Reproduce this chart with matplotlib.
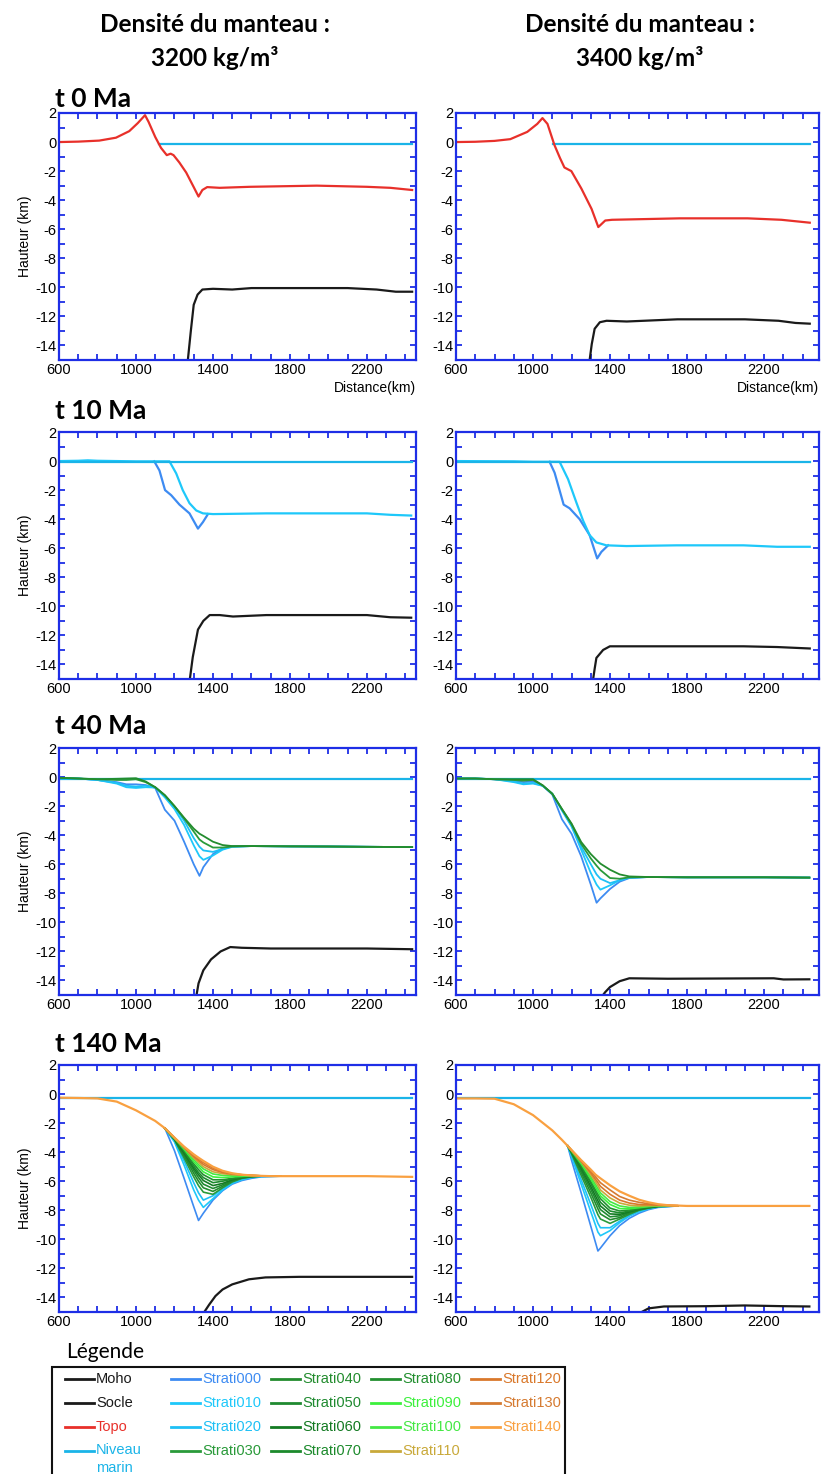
import matplotlib.pyplot as plt
from matplotlib.lines import Line2D
from matplotlib.patches import Rectangle

plt.rcParams['font.family'] = ['Liberation Sans', 'DejaVu Sans']
plt.rcParams['axes.unicode_minus'] = False

W, H = 821, 1474

# ---------------- data (km) ----------------
densities = ["3200", "3400"]
times = ["t 0 Ma", "t 10 Ma", "t 40 Ma", "t 140 Ma"]
xticks = [600, 1000, 1400, 1800, 2200]
yticks = [-14, -12, -10, -8, -6, -4, -2, 0, 2]

legend_names = ["Moho", "Socle", "Topo", "Niveau\nmarin",
                "Strati000", "Strati010", "Strati020", "Strati030",
                "Strati040", "Strati050", "Strati060", "Strati070",
                "Strati080", "Strati090", "Strati100", "Strati110",
                "Strati120", "Strati130", "Strati140"]
legend_colors = ["#1a1a1a", "#1a1a1a", "#e8302a", "#1ab4e8",
                 "#3d8bf2", "#1ec8fa", "#1ec0f5", "#2a9a3a",
                 "#238c2e", "#1f8a30", "#137a22", "#1c8a2c",
                 "#228f2f", "#3cf03c", "#44e844", "#c9a93a",
                 "#d9782b", "#d57a30", "#f9a040"]

# t 0 Ma
topo0_3200_x = [600, 700, 809, 896, 965, 1009, 1047, 1065, 1100, 1130, 1160, 1180, 1195, 1225, 1261,
                1300, 1325, 1345, 1370, 1435, 1591, 1939, 2200, 2322, 2435]
topo0_3200_y = [0.0, 0.03, 0.1, 0.3, 0.75, 1.3, 1.85, 1.4, 0.35, -0.4, -0.9, -0.8, -0.9, -1.4, -2.1,
                -3.1, -3.75, -3.3, -3.1, -3.15, -3.08, -3.0, -3.08, -3.15, -3.3]
sea0_3200_x = [1120, 2435]
sea0_3200_y = [-0.1, -0.1]
socle0_3200_x = [1268, 1285, 1300, 1320, 1345, 1400, 1500, 1600, 2100, 2250, 2350, 2435]
socle0_3200_y = [-15.2, -13.0, -11.2, -10.5, -10.15, -10.1, -10.15, -10.05, -10.05, -10.15, -10.3, -10.3]

topo0_3400_x = [600, 700, 800, 882, 970, 1022, 1049, 1075, 1111, 1140, 1163, 1199, 1251, 1304, 1339,
                1375, 1410, 1762, 2114, 2290, 2437]
topo0_3400_y = [0.0, 0.02, 0.08, 0.2, 0.7, 1.25, 1.65, 1.25, -0.2, -1.1, -1.75, -2.0, -3.2, -4.6, -5.85,
                -5.4, -5.35, -5.25, -5.25, -5.35, -5.55]
sea0_3400_x = [1103, 2437]
sea0_3400_y = [-0.1, -0.1]
socle0_3400_x = [1292, 1305, 1320, 1347, 1382, 1487, 1750, 2100, 2275, 2363, 2437]
socle0_3400_y = [-15.2, -13.9, -12.85, -12.4, -12.3, -12.35, -12.2, -12.2, -12.3, -12.45, -12.5]

# t 10 Ma
sea10_3200_x = [600, 2435]
sea10_3200_y = [-0.05, -0.05]
s010_10_3200_x = [600, 700, 750, 800, 900, 1000, 1100, 1174, 1209, 1243, 1278, 1313, 1348, 1400,
                  1678, 2200, 2322, 2430]
s010_10_3200_y = [0.0, 0.02, 0.05, 0.02, 0.0, -0.02, -0.02, -0.02, -0.85, -2.0, -2.9, -3.4, -3.6, -3.65,
                  -3.6, -3.6, -3.7, -3.75]
s000_10_3200_x = [1095, 1122, 1151, 1183, 1226, 1278, 1322, 1348, 1374]
s000_10_3200_y = [-0.02, -0.65, -2.0, -2.35, -3.0, -3.6, -4.65, -4.2, -3.65]
socle10_3200_x = [1278, 1295, 1322, 1350, 1383, 1435, 1504, 1678, 2200, 2322, 2430]
socle10_3200_y = [-15.2, -13.5, -11.6, -11.0, -10.6, -10.6, -10.7, -10.6, -10.6, -10.75, -10.78]

sea10_3400_x = [600, 2437]
sea10_3400_y = [-0.05, -0.05]
s010_10_3400_x = [600, 900, 1000, 1100, 1138, 1182, 1225, 1260, 1294, 1329, 1381, 1485, 1746, 2093,
                  2267, 2437]
s010_10_3400_y = [0.0, -0.02, -0.05, -0.05, -0.05, -1.25, -2.85, -4.1, -5.1, -5.6, -5.8, -5.85, -5.8, -5.8,
                  -5.9, -5.9]
s000_10_3400_x = [1086, 1112, 1159, 1190, 1242, 1294, 1333, 1355, 1390]
s000_10_3400_y = [-0.05, -0.8, -3.0, -3.25, -4.0, -5.1, -6.7, -6.25, -5.8]
socle10_3400_x = [1310, 1320, 1329, 1364, 1399, 1572, 2093, 2267, 2437]
socle10_3400_y = [-15.2, -14.3, -13.55, -13.0, -12.75, -12.75, -12.75, -12.8, -12.9]

# t 40 Ma
x40 = [600, 700, 800, 900, 950, 1000, 1050, 1100, 1150, 1200, 1250, 1300, 1330, 1350, 1400, 1450,
       1500, 1600, 1800, 2000, 2200, 2435]
s000_40_3200 = [-0.05, -0.1, -0.2, -0.35, -0.5, -0.5, -0.55, -0.75, -2.25, -3.0, -4.45, -6.0, -6.8, -6.2,
                -5.3, -4.9, -4.78, -4.75, -4.77, -4.78, -4.8, -4.82]
s010_40_3200 = [-0.05, -0.1, -0.2, -0.45, -0.7, -0.75, -0.7, -0.72, -1.4, -2.2, -3.3, -4.7, -5.45, -5.7,
                -5.4, -5.0, -4.8, -4.75, -4.77, -4.78, -4.8, -4.82]
s020_40_3200 = [-0.05, -0.1, -0.2, -0.4, -0.6, -0.65, -0.6, -0.7, -1.3, -2.05, -3.0, -4.2, -4.8, -5.05,
                -5.15, -4.95, -4.78, -4.75, -4.77, -4.78, -4.8, -4.82]
s030_40_3200 = [-0.05, -0.1, -0.15, -0.2, -0.2, -0.15, -0.35, -0.7, -1.25, -2.0, -2.85, -3.75, -4.3, -4.5,
                -4.85, -4.85, -4.78, -4.75, -4.77, -4.78, -4.8, -4.82]
s040_40_3200 = [-0.05, -0.1, -0.15, -0.12, -0.1, -0.08, -0.3, -0.7, -1.25, -2.0, -2.8, -3.55, -3.9, -4.05,
                -4.45, -4.68, -4.75, -4.75, -4.77, -4.78, -4.8, -4.82]
sea40_3200_x = [600, 2435]
sea40_3200_y = [-0.15, -0.15]
socle40_3200_x = [1312, 1325, 1350, 1390, 1440, 1490, 1550, 1700, 2200, 2435]
socle40_3200_y = [-15.2, -14.2, -13.3, -12.55, -12.0, -11.7, -11.75, -11.8, -11.8, -11.85]

s000_40_3400 = [-0.1, -0.1, -0.15, -0.25, -0.35, -0.3, -0.6, -1.2, -2.9, -3.9, -5.45, -7.4, -8.65, -8.35,
                -7.7, -7.2, -6.95, -6.88, -6.9, -6.9, -6.9, -6.92]
s010_40_3400 = [-0.1, -0.1, -0.15, -0.35, -0.5, -0.45, -0.6, -1.15, -2.3, -3.4, -5.0, -6.6, -7.4, -7.75,
                -7.45, -7.1, -6.92, -6.88, -6.9, -6.9, -6.9, -6.92]
s020_40_3400 = [-0.1, -0.1, -0.15, -0.3, -0.45, -0.4, -0.6, -1.15, -2.25, -3.35, -4.8, -6.0, -6.7, -7.0,
                -7.3, -7.1, -6.92, -6.88, -6.9, -6.9, -6.9, -6.92]
s030_40_3400 = [-0.1, -0.1, -0.15, -0.2, -0.25, -0.2, -0.57, -1.15, -2.2, -3.25, -4.6, -5.6, -6.1, -6.4,
                -6.95, -7.0, -6.9, -6.88, -6.9, -6.9, -6.9, -6.92]
s040_40_3400 = [-0.1, -0.1, -0.15, -0.15, -0.15, -0.15, -0.57, -1.15, -2.2, -3.2, -4.47, -5.3, -5.7, -5.96,
                -6.38, -6.7, -6.84, -6.88, -6.9, -6.9, -6.9, -6.92]
sea40_3400_x = [600, 2437]
sea40_3400_y = [-0.1, -0.1]
socle40_3400_x = [1352, 1375, 1400, 1450, 1500, 1700, 2250, 2300, 2435]
socle40_3400_y = [-15.2, -14.8, -14.45, -14.05, -13.85, -13.88, -13.85, -13.93, -13.92]

# t 140 Ma : shared upper surface (Strati140) and the fan of strata below it
x140 = [600, 700, 800, 900, 1000, 1100, 1150, 1200, 1250, 1300, 1325, 1350, 1400, 1450, 1500, 1550,
        1600, 1650, 1700, 1800, 2000, 2200, 2435]
s140_3200 = [-0.25, -0.27, -0.3, -0.52, -1.12, -1.85, -2.35, -3.0, -3.62, -4.15, -4.38, -4.6, -5.0, -5.28,
             -5.45, -5.55, -5.6, -5.63, -5.65, -5.65, -5.65, -5.65, -5.7]
fan_3200 = [1150, 1200, 1250, 1300, 1325, 1350, 1400, 1450, 1500, 1550, 1600, 1650, 1750]
s000_3200 = [-2.35, -3.9, -5.8, -7.75, -8.7, -8.2, -7.3, -6.65, -6.2, -5.95, -5.8, -5.7, -5.65]
s010_3200 = [-2.35, -3.3, -4.9, -6.6, -7.3, -7.8, -7.2, -6.6, -6.15, -5.9, -5.75, -5.68, -5.65]
s020_3200 = [-2.35, -3.2, -4.6, -6.1, -6.8, -7.3, -7.0, -6.5, -6.1, -5.85, -5.72, -5.66, -5.65]
s030_3200 = [-2.35, -3.15, -4.4, -5.7, -6.3, -6.75, -6.9, -6.45, -6.05, -5.8, -5.7, -5.65, -5.65]
s040_3200 = [-2.35, -3.12, -4.25, -5.45, -6.0, -6.45, -6.7, -6.35, -6.0, -5.78, -5.68, -5.65, -5.65]
s050_3200 = [-2.35, -3.1, -4.15, -5.25, -5.75, -6.2, -6.5, -6.25, -5.95, -5.76, -5.67, -5.64, -5.65]
s060_3200 = [-2.35, -3.08, -4.05, -5.1, -5.55, -5.95, -6.3, -6.15, -5.9, -5.74, -5.66, -5.64, -5.65]
s070_3200 = [-2.35, -3.06, -3.95, -4.95, -5.4, -5.75, -6.1, -6.0, -5.85, -5.72, -5.65, -5.64, -5.65]
s080_3200 = [-2.35, -3.05, -3.9, -4.8, -5.2, -5.55, -5.9, -5.9, -5.8, -5.7, -5.64, -5.63, -5.65]
s090_3200 = [-2.35, -3.04, -3.8, -4.65, -5.0, -5.35, -5.7, -5.75, -5.7, -5.66, -5.63, -5.63, -5.65]
s100_3200 = [-2.35, -3.03, -3.75, -4.5, -4.85, -5.15, -5.5, -5.6, -5.62, -5.62, -5.62, -5.63, -5.65]
s110_3200 = [-2.35, -3.02, -3.7, -4.4, -4.7, -5.0, -5.35, -5.48, -5.55, -5.58, -5.6, -5.63, -5.65]
s120_3200 = [-2.35, -3.01, -3.68, -4.3, -4.58, -4.85, -5.2, -5.4, -5.5, -5.56, -5.6, -5.63, -5.65]
s130_3200 = [-2.35, -3.0, -3.65, -4.22, -4.48, -4.72, -5.1, -5.33, -5.48, -5.55, -5.6, -5.63, -5.65]
sea140_3200_x = [600, 2435]
sea140_3200_y = [-0.25, -0.25]
socle140_3200_x = [1345, 1380, 1413, 1450, 1500, 1587, 1673, 1850, 2435]
socle140_3200_y = [-15.2, -14.5, -13.9, -13.45, -13.1, -12.75, -12.62, -12.58, -12.58]

s140_3400 = [-0.3, -0.3, -0.32, -0.7, -1.45, -2.5, -3.15, -3.85, -4.55, -5.2, -5.55, -5.8, -6.28, -6.7,
             -7.0, -7.27, -7.45, -7.58, -7.65, -7.7, -7.7, -7.7, -7.7]
fan_3400 = [1180, 1200, 1250, 1300, 1337, 1350, 1400, 1450, 1500, 1550, 1600, 1650, 1750]
s000_3400 = [-3.57, -4.56, -6.8, -9.1, -10.8, -10.6, -9.75, -9.05, -8.55, -8.2, -7.95, -7.8, -7.7]
s010_3400 = [-3.57, -4.3, -6.2, -8.1, -9.5, -9.75, -9.4, -8.85, -8.4, -8.1, -7.9, -7.76, -7.7]
s020_3400 = [-3.57, -4.2, -5.9, -7.6, -8.9, -9.2, -9.2, -8.75, -8.35, -8.05, -7.87, -7.75, -7.7]
s030_3400 = [-3.57, -4.1, -5.6, -7.1, -8.3, -8.6, -8.9, -8.6, -8.28, -8.0, -7.85, -7.74, -7.7]
s040_3400 = [-3.57, -4.05, -5.4, -6.8, -7.9, -8.25, -8.65, -8.5, -8.2, -7.97, -7.83, -7.73, -7.7]
s050_3400 = [-3.57, -4.0, -5.25, -6.55, -7.6, -7.95, -8.45, -8.38, -8.15, -7.94, -7.81, -7.72, -7.7]
s060_3400 = [-3.57, -3.97, -5.1, -6.35, -7.35, -7.7, -8.25, -8.28, -8.1, -7.92, -7.8, -7.72, -7.7]
s070_3400 = [-3.57, -3.95, -5.0, -6.15, -7.1, -7.45, -8.05, -8.18, -8.05, -7.9, -7.78, -7.71, -7.7]
s080_3400 = [-3.57, -3.93, -4.9, -6.0, -6.9, -7.2, -7.85, -8.05, -7.98, -7.86, -7.76, -7.7, -7.7]
s090_3400 = [-3.57, -3.91, -4.8, -5.85, -6.7, -7.0, -7.6, -7.88, -7.9, -7.82, -7.74, -7.7, -7.7]
s100_3400 = [-3.57, -3.9, -4.72, -5.7, -6.5, -6.8, -7.4, -7.7, -7.8, -7.77, -7.72, -7.69, -7.7]
s110_3400 = [-3.57, -3.88, -4.66, -5.55, -6.3, -6.6, -7.15, -7.5, -7.65, -7.7, -7.68, -7.68, -7.7]
s120_3400 = [-3.57, -3.87, -4.62, -5.42, -6.1, -6.35, -6.9, -7.3, -7.5, -7.6, -7.62, -7.65, -7.68]
s130_3400 = [-3.57, -3.86, -4.58, -5.3, -5.9, -6.1, -6.6, -7.05, -7.3, -7.45, -7.55, -7.62, -7.68]
sea140_3400_x = [600, 2437]
sea140_3400_y = [-0.25, -0.25]
socle140_3400_x = [1550, 1600, 1680, 1900, 2100, 2300, 2435]
socle140_3400_y = [-15.1, -14.75, -14.62, -14.6, -14.55, -14.6, -14.62]

# ---------------- figure ----------------
col = dict(zip([n.replace("\n", " ") for n in legend_names], legend_colors))
BLUE = "#1e2ee6"

fig = plt.figure(figsize=(W / 100, H / 100), dpi=100)


def px_axes(x0, top, w, h):
    return fig.add_axes([x0 / W, 1 - (top + h) / H, w / W, h / H])


def style(ax, xmax, ylabel):
    ax.set_xlim(600, xmax)
    ax.set_ylim(-15, 2)
    ax.set_xticks(xticks)
    ax.set_xticks(range(600, int(xmax), 100), minor=True)
    ax.set_yticks(yticks)
    ax.set_yticks(range(-15, 3), minor=True)
    ax.tick_params(which="both", direction="in", top=True, right=True,
                   color=BLUE, length=4, width=1.3, labelsize=10.5, pad=2)
    for sp in ax.spines.values():
        sp.set_color(BLUE)
        sp.set_linewidth(1.6)
    if ylabel:
        ax.set_ylabel("Hauteur (km)", fontsize=10, labelpad=2)


lefts = [(59, 357, 2455), (456, 363, 2485)]
tops = [113, 432, 748, 1065]
hgt = 247
axes = [[px_axes(x0, t, w, hgt) for (x0, w, _) in lefts] for t in tops]
for r in range(4):
    for c in range(2):
        style(axes[r][c], lefts[c][2], c == 0)

lw = 1.6

# row 0
for ax, sx, sy, ox, oy, tx, ty in [
        (axes[0][0], sea0_3200_x, sea0_3200_y, socle0_3200_x, socle0_3200_y, topo0_3200_x, topo0_3200_y),
        (axes[0][1], sea0_3400_x, sea0_3400_y, socle0_3400_x, socle0_3400_y, topo0_3400_x, topo0_3400_y)]:
    ax.plot(sx, sy, color=col["Niveau marin"], lw=lw)
    ax.plot(ox, oy, color=col["Socle"], lw=lw)
    ax.plot(tx, ty, color=col["Topo"], lw=lw)
    ax.text(1, -0.085, "Distance(km)", transform=ax.transAxes, ha="right", va="top", fontsize=10)

# row 1
for ax, sx, sy, ox, oy, ax0, ay0, ax1, ay1 in [
        (axes[1][0], sea10_3200_x, sea10_3200_y, socle10_3200_x, socle10_3200_y,
         s000_10_3200_x, s000_10_3200_y, s010_10_3200_x, s010_10_3200_y),
        (axes[1][1], sea10_3400_x, sea10_3400_y, socle10_3400_x, socle10_3400_y,
         s000_10_3400_x, s000_10_3400_y, s010_10_3400_x, s010_10_3400_y)]:
    ax.plot(ox, oy, color=col["Socle"], lw=lw)
    ax.plot(ax0, ay0, color=col["Strati000"], lw=lw)
    ax.plot(ax1, ay1, color=col["Strati010"], lw=lw)
    ax.plot(sx, sy, color=col["Niveau marin"], lw=lw)

# row 2
for ax, sx, sy, ox, oy, layers in [
        (axes[2][0], sea40_3200_x, sea40_3200_y, socle40_3200_x, socle40_3200_y,
         [s000_40_3200, s010_40_3200, s020_40_3200, s030_40_3200, s040_40_3200]),
        (axes[2][1], sea40_3400_x, sea40_3400_y, socle40_3400_x, socle40_3400_y,
         [s000_40_3400, s010_40_3400, s020_40_3400, s030_40_3400, s040_40_3400])]:
    ax.plot(ox, oy, color=col["Socle"], lw=lw)
    ax.plot(sx, sy, color=col["Niveau marin"], lw=lw)
    for i, ys in enumerate(layers):
        ax.plot(x40, ys, color=legend_colors[4 + i], lw=1.3)

# row 3
for ax, sx, sy, ox, oy, fan, layers, top in [
        (axes[3][0], sea140_3200_x, sea140_3200_y, socle140_3200_x, socle140_3200_y, fan_3200,
         [s000_3200, s010_3200, s020_3200, s030_3200, s040_3200, s050_3200, s060_3200,
          s070_3200, s080_3200, s090_3200, s100_3200, s110_3200, s120_3200, s130_3200], s140_3200),
        (axes[3][1], sea140_3400_x, sea140_3400_y, socle140_3400_x, socle140_3400_y, fan_3400,
         [s000_3400, s010_3400, s020_3400, s030_3400, s040_3400, s050_3400, s060_3400,
          s070_3400, s080_3400, s090_3400, s100_3400, s110_3400, s120_3400, s130_3400], s140_3400)]:
    ax.plot(ox, oy, color=col["Socle"], lw=lw)
    ax.plot(sx, sy, color=col["Niveau marin"], lw=lw)
    for i, ys in enumerate(layers):
        ax.plot(fan, ys, color=legend_colors[4 + i], lw=1.2)
    ax.plot(x140, top, color=col["Strati140"], lw=1.6)

# titles
bold = ["Lato", "DejaVu Sans"]
for cx, d in zip([215, 640], densities):
    fig.text(cx / W, 1 - 25 / H, "Densité du manteau :", ha="center", va="center",
             fontsize=17.5, fontweight="bold", family=bold)
    fig.text(cx / W, 1 - 58 / H, d + " kg/m³", ha="center", va="center",
             fontsize=17.5, fontweight="bold", family=bold)
for ty, t in zip([99, 411, 726, 1044], times):
    fig.text(55 / W, 1 - ty / H, t, ha="left", va="center",
             fontsize=19, fontweight="bold", family=bold)

# legend, laid out as in the original: 5 fixed-width columns of 4 rows
fig.text(66 / W, 1 - 1352 / H, "Légende", ha="left", va="center", fontsize=15, family=["Lato", "DejaVu Sans"])
fig.add_artist(Rectangle((52 / W, 1 - 1495 / H), (565 - 52) / W, (1495 - 1367) / H,
                         transform=fig.transFigure, fill=False, ec="#111111", lw=1.5))
col_x = [65, 171, 271, 371, 471]
row_y = [1379, 1403, 1427, 1451]
for i, (name, c) in enumerate(zip(legend_names, legend_colors)):
    x, y = col_x[i // 4], row_y[i % 4]
    fig.add_artist(Line2D([x / W, (x + 29) / W], [1 - y / H, 1 - y / H],
                          transform=fig.transFigure, color=c, lw=2))
    if "\n" in name:
        fig.text((x + 31) / W, 1 - (y - 8) / H, name, ha="left", va="top",
                 color=c, fontsize=10.5, linespacing=1.4)
    else:
        fig.text((x + 31) / W, 1 - y / H, name, ha="left", va="center", color=c, fontsize=10.5)

fig.savefig("out.png", dpi=100)
